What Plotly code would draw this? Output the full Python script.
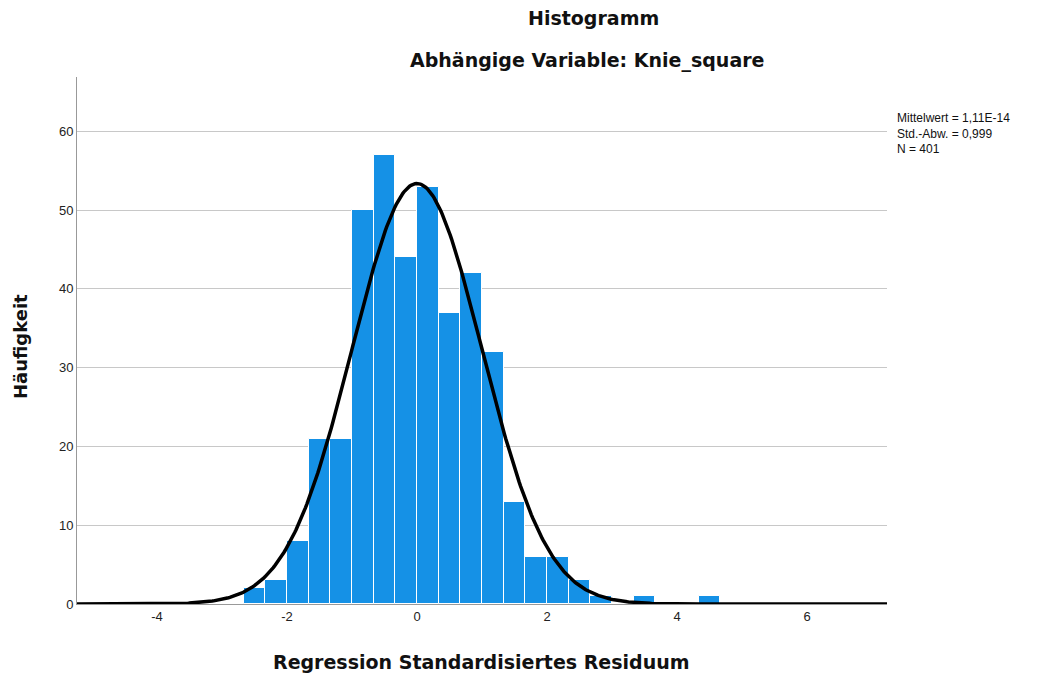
import numpy as np
import plotly.graph_objects as go

# Histogram data (bin width 1/3)
bin_left_edges = [-8/3, -7/3, -2, -5/3, -4/3, -1, -2/3, -1/3, 0, 1/3, 2/3, 1, 4/3, 5/3, 2, 7/3, 8/3, 3, 10/3, 11/3, 4, 13/3]
counts = [2, 3, 8, 21, 21, 50, 57, 44, 53, 37, 42, 32, 13, 6, 6, 3, 1, 0, 1, 0, 0, 1]
bin_width = 1/3

mean_val = 1.11e-14
std_val = 0.999
n_val = 401

x_tick_vals = [-4, -2, 0, 2, 4, 6]
y_tick_vals = [0, 10, 20, 30, 40, 50, 60]

centers = [e + bin_width / 2 for e in bin_left_edges]

xr = [-5.23, 7.23]
xs = np.linspace(xr[0], xr[1], 600)
ys = n_val * bin_width * np.exp(-0.5 * ((xs - mean_val) / std_val) ** 2) / (std_val * np.sqrt(2 * np.pi))

fig = go.Figure()
fig.add_trace(go.Bar(
    x=centers, y=counts, width=bin_width,
    marker=dict(color="#1591E6", line=dict(color="white", width=1)),
    hoverinfo="x+y", showlegend=False,
))
fig.add_trace(go.Scatter(
    x=xs, y=ys, mode="lines",
    line=dict(color="black", width=3.5),
    showlegend=False, hoverinfo="skip",
))

font_family = "Liberation Sans, Arial, sans-serif"
title_family = "DejaVu Sans, sans-serif"

# plot area: 810 x 527 px
PW, PH = 810.0, 527.0

fig.update_layout(
    width=1038, height=671,
    margin=dict(l=69, r=159, t=69, b=75),
    paper_bgcolor="white", plot_bgcolor="white",
    font=dict(family=font_family, size=13, color="#222"),
    bargap=0,
    annotations=[
        dict(text="<b>Histogramm</b>", xref="paper", yref="paper",
             x=(593 - 77) / PW, y=1 + (77 - 18) / PH, xanchor="center", yanchor="middle",
             showarrow=False, font=dict(size=19, color="#111", family=title_family)),
        dict(text="<b>Abhängige Variable: Knie_square</b>", xref="paper", yref="paper",
             x=(587 - 77) / PW, y=1 + (77 - 60) / PH, xanchor="center", yanchor="middle",
             showarrow=False, font=dict(size=19, color="#111", family=title_family)),
        dict(text="<b>Regression Standardisiertes Residuum</b>", xref="paper", yref="paper",
             x=(481 - 77) / PW, y=(604 - 662) / PH, xanchor="center", yanchor="middle",
             showarrow=False, font=dict(size=19, color="#111", family=title_family)),
        dict(text="<b>Häufigkeit</b>", xref="paper", yref="paper", textangle=-90,
             x=(20 - 77) / PW, y=(604 - 346) / PH, xanchor="center", yanchor="middle",
             showarrow=False, font=dict(size=18, color="#111", family=title_family)),
        dict(text="Mittelwert = 1,11E-14<br>Std.-Abw. = 0,999<br>N = 401",
             xref="paper", yref="paper", x=(895 - 77) / PW, y=(604 - 109) / PH,
             xanchor="left", yanchor="top", align="left", showarrow=False,
             font=dict(size=12, color="#111", family=font_family)),
    ],
)

fig.update_xaxes(
    range=xr, tickvals=x_tick_vals, ticktext=[str(v) for v in x_tick_vals],
    showgrid=False, zeroline=False, showline=True, linecolor="#999", linewidth=1,
    ticks="", tickfont=dict(size=13, color="#222"),
)
fig.update_yaxes(
    range=[0, 66.9], tickvals=y_tick_vals,
    showgrid=True, gridcolor="#c8c8c8", gridwidth=1.3, zeroline=False,
    showline=True, linecolor="#999", linewidth=1, ticks="",
    tickfont=dict(size=13, color="#222"),
)

fig.write_html("out.html")
